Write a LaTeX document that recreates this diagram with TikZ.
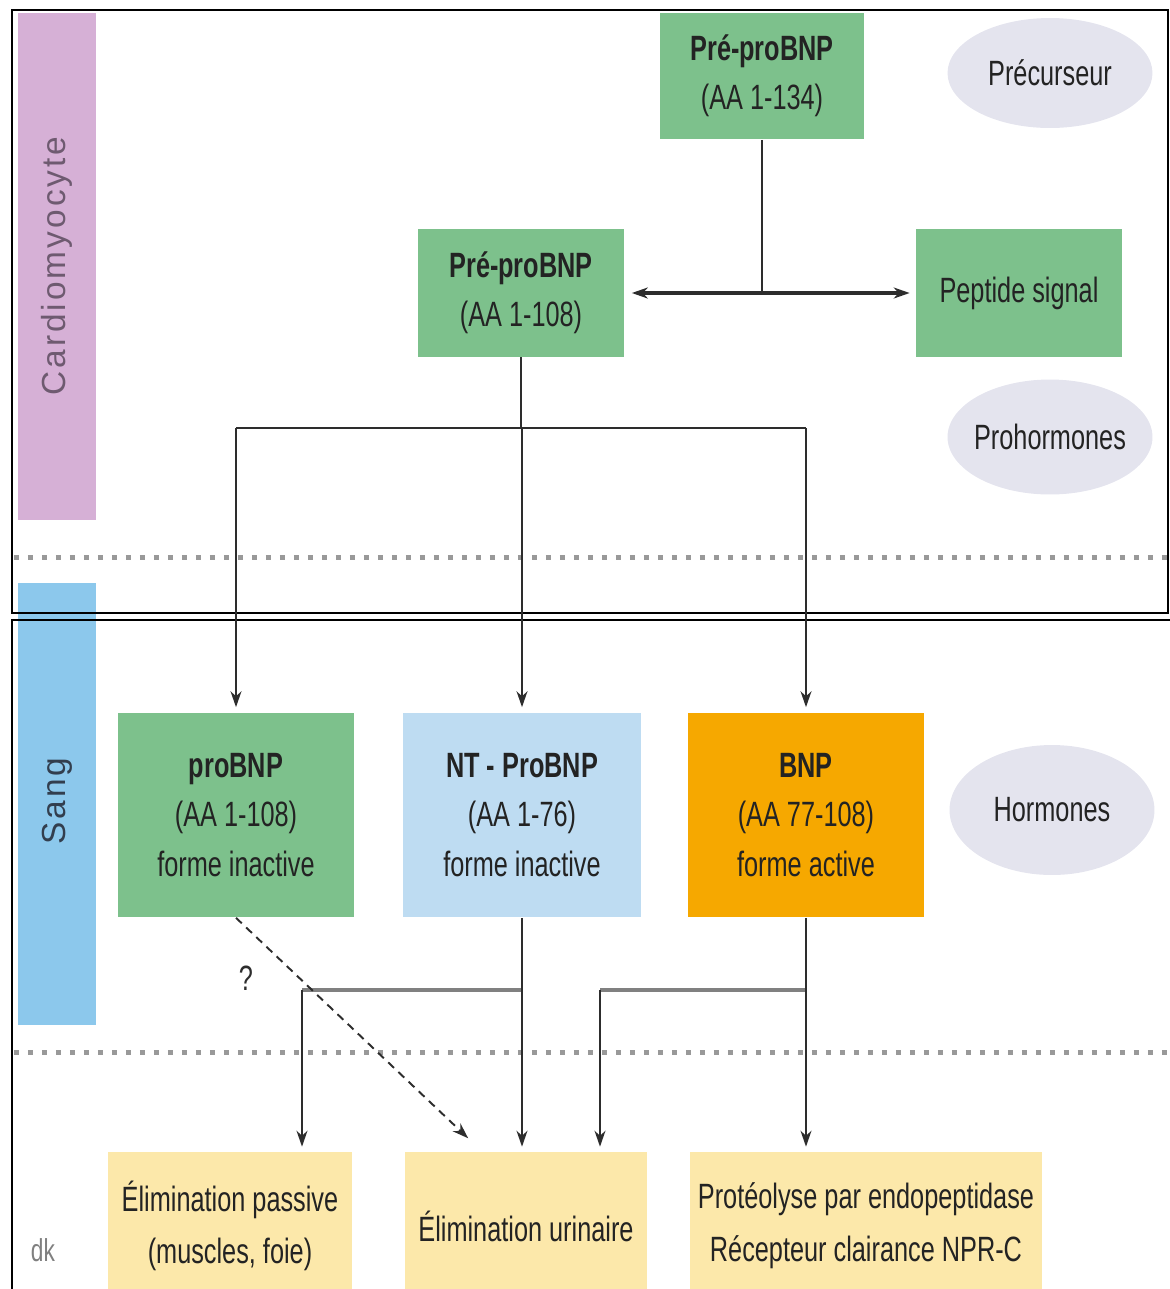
\documentclass[tikz,border=0pt]{standalone}
\usepackage{fontspec}
\setmainfont{Liberation Sans}[FakeStretch=0.72]
\newfontfamily\sidefont{Liberation Sans}[LetterSpace=9]
\usetikzlibrary{shapes.geometric}
\usetikzlibrary{arrows.meta}
\usetikzlibrary{positioning}

\definecolor{boxgreen}{RGB}{125,193,140}
\definecolor{boxblue}{RGB}{190,220,242}
\definecolor{boxorange}{RGB}{246,168,0}
\definecolor{boxyellow}{RGB}{252,232,170}
\definecolor{ellgray}{RGB}{228,228,238}
\definecolor{barpink}{RGB}{214,176,214}
\definecolor{barblue}{RGB}{140,200,236}
\definecolor{txt}{RGB}{35,35,35}
\definecolor{linedark}{RGB}{45,45,45}

\tikzset{
  box/.style={rectangle, inner sep=0pt, align=center, text=txt,
    font=\fontsize{20}{28}\selectfont},
  tag/.style={ellipse, fill=ellgray, inner xsep=-0.3cm, inner ysep=0pt,
    minimum width=4.1cm, text=txt, font=\fontsize{20}{24}\selectfont},
  side/.style={rotate=90, font=\sidefont\fontsize{19}{24}\selectfont},
  link/.style={draw=linedark, line width=1.1pt},
  arr/.style={link, ->, shorten >=0.1cm},
  bar/.style={draw=gray, line width=2.8pt},
  dashlink/.style={draw=linedark, line width=1.1pt, dash pattern=on 0.16cm off 0.12cm,
    ->, shorten >=0.05cm},
  sep/.style={draw=gray!80, line width=0.1cm, dash pattern=on 0.1cm off 0.18cm}
}

\begin{document}
\begin{tikzpicture}[x=0.02cm, y=-0.02cm,
  >={Stealth[length=0.32cm,width=0.22cm]}]
\useasboundingbox (0,0) rectangle (1170,1289);

% side bars
\fill[barpink] (18,13) rectangle (96,520);
\fill[barblue] (18,583) rectangle (96,1025);
\node[side, text={rgb,255:red,110;green,90;blue,112}] (cardio) at (57,266) {Cardiomyocyte};
\node[side, text={rgb,255:red,50;green,62;blue,78}] (sang) at (57,801) {Sang};

% frames
\draw[line width=1.6pt] (12,10) rectangle (1168,613);
\draw[line width=1.6pt] (12,1289) -- (12,620) -- (1170,620);

% separators
\draw[sep] (14,557) -- (1170,557);
\draw[sep] (14,1052) -- (1170,1052);

% cardiomyocyte
\node[box, fill=boxgreen, minimum width=4.1cm, minimum height=2.54cm] (pre1) at (762,76)
  {\textbf{Pré-proBNP}\\(AA 1-134)};
\node[box, fill=boxgreen, minimum width=4.14cm, minimum height=2.56cm] (pre2) at (521,293)
  {\textbf{Pré-proBNP}\\(AA 1-108)};
\node[box, fill=boxgreen, minimum width=4.12cm, minimum height=2.58cm] (sig) at (1019,293)
  {Peptide signal};
\node[tag, minimum height=2.2cm] (e1) at (1050,73) {Précurseur};
\node[tag, minimum height=2.3cm] (e2) at (1050,437) {Prohormones};

% sang
\node[box, fill=boxgreen, minimum width=4.74cm, minimum height=4.1cm] (pro) at (236,815)
  {\textbf{proBNP}\\(AA 1-108)\\forme inactive};
\node[box, fill=boxblue, minimum width=4.76cm, minimum height=4.1cm] (nt) at (522,815)
  {\textbf{NT - ProBNP}\\(AA 1-76)\\forme inactive};
\node[box, fill=boxorange, minimum width=4.74cm, minimum height=4.1cm] (bnp) at (806,815)
  {\textbf{BNP}\\(AA 77-108)\\forme active};
\node[tag, minimum height=2.6cm] (e3) at (1052,810) {Hormones};

% elimination
\node[box, fill=boxyellow, minimum width=4.88cm, minimum height=2.96cm,
  font=\fontsize{20}{30}\selectfont] (pas) at (230,1226)
  {Élimination passive\\(muscles, foie)};
\node[box, fill=boxyellow, minimum width=4.86cm, minimum height=2.96cm] (uri) at (526,1226)
  {Élimination urinaire};
\node[box, fill=boxyellow, minimum width=7.06cm, minimum height=2.96cm,
  font=\fontsize{20}{30}\selectfont] (prot) at (866,1226)
  {Protéolyse par endopeptidase\\Récepteur clairance NPR-C};
\node[text=gray, font=\fontsize{18}{20}\selectfont] (mark) at (43,1250) {dk};

\coordinate (h1) at (0,428);
\coordinate (h2l) at (302,990);
\coordinate (h2r) at (600,990);
\coordinate (q) at (470,1140);

\draw[link] (pre1.south) -- (pre1.south |- pre2.east);
\draw[link, line width=1.8pt, <->, shorten <=0.14cm, shorten >=0.12cm] (pre2.east) -- (sig.west);
\draw[link] (pre2.south) -- (pre2.south |- h1);
\draw[link] (pro.north |- h1) -- (bnp.north |- h1);
\draw[arr] (pro.north |- h1) -- (pro.north);
\draw[arr] (nt.north |- h1) -- (nt.north);
\draw[arr] (bnp.north |- h1) -- (bnp.north);

\draw[bar] (h2l) -- (nt.south |- h2l);
\draw[bar] (h2r) -- (bnp.south |- h2r);
\draw[arr] (h2l) -- (h2l |- pas.north);
\draw[arr] (nt.south) -- (nt.south |- uri.north);
\draw[arr] (h2r) -- (h2r |- uri.north);
\draw[arr] (bnp.south) -- (bnp.south |- prot.north);
\draw[dashlink] (pro.south) -- (q);
\node[text=linedark, font=\fontsize{20}{24}\selectfont] (qm) at (246,978) {?};
\end{tikzpicture}
\end{document}
